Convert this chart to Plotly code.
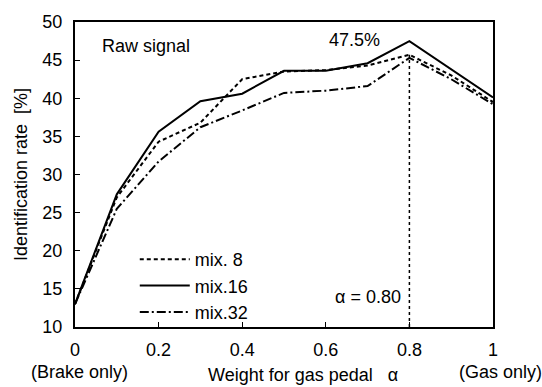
import plotly.graph_objects as go

alpha = [0, 0.1, 0.2, 0.3, 0.4, 0.5, 0.6, 0.7, 0.8, 0.9, 1.0]
mix8 = [13.0, 27.0, 34.3, 36.8, 42.5, 43.5, 43.7, 44.3, 45.7, 43.0, 39.5]
mix16 = [13.0, 27.4, 35.6, 39.6, 40.6, 43.6, 43.6, 44.6, 47.5, 43.8, 40.1]
mix32 = [13.0, 25.5, 31.7, 36.2, 38.4, 40.7, 41.0, 41.6, 45.3, 42.5, 39.2]
series = [("mix. 8", mix8, "4px,3px"), ("mix.16", mix16, "solid"), ("mix.32", mix32, "9px,3px,2px,3px")]
peak_alpha = 0.8
xticks = [0, 0.2, 0.4, 0.6, 0.8, 1]
xticklabels = ["0", "0.2", "0.4", "0.6", "0.8", "1"]

fig = go.Figure()
for name, vals, dash in series:
    fig.add_trace(go.Scatter(x=alpha, y=vals, mode="lines", name=name,
                             line=dict(color="black", width=2, dash=dash)))

fig.add_shape(type="line", x0=peak_alpha, x1=peak_alpha, y0=10, y1=max(mix8[8], mix32[8]),
              xref="x", yref="y", line=dict(color="black", width=1.5, dash="3px,3px"))

font = dict(family="Liberation Sans, Arial, sans-serif", size=18, color="black")
fig.update_layout(
    width=542, height=387,
    margin=dict(l=75, r=49, t=19, b=60),
    paper_bgcolor="white", plot_bgcolor="white",
    font=font,
    showlegend=True,
    legend=dict(x=0.143, y=0.282, xanchor="left", yanchor="top", bgcolor="rgba(0,0,0,0)",
                font=font, tracegroupgap=0, itemwidth=50),
    xaxis=dict(range=[0, 1], tickvals=xticks, ticktext=xticklabels,
               ticks="inside", ticklen=5, tickcolor="black", showline=True, linecolor="black",
               linewidth=2, mirror=True, showgrid=False, zeroline=False, tickfont=font,
               ticklabelstandoff=5),
    yaxis=dict(range=[10, 50], dtick=5, ticks="inside", ticklen=5, tickcolor="black",
               showline=True, linecolor="black", linewidth=2, mirror=True, showgrid=False,
               zeroline=False, tickfont=font, ticklabelstandoff=7,
               title=dict(text="Identification rate  [%]", font=font, standoff=10)),
    annotations=[
        dict(text="Raw signal", x=0.17, y=46.85, xref="paper", yref="y", showarrow=False, xanchor="center", font=font),
        dict(text="47.5%", x=0.669, y=47.7, xref="paper", yref="y", showarrow=False, xanchor="center", font=font),
        dict(text="\u03b1 = 0.80", x=0.785, y=14.0, xref="paper", yref="y", showarrow=False, xanchor="right", font=font),
        dict(text="(Brake only)", x=0.01, y=-0.149, xref="paper", yref="paper", showarrow=False, xanchor="center", yanchor="middle", font=font),
        dict(text="Weight for gas pedal   \u03b1", x=0.546, y=-0.158, xref="paper", yref="paper", showarrow=False, xanchor="center", yanchor="middle", font=font),
        dict(text="(Gas only)", x=1.017, y=-0.149, xref="paper", yref="paper", showarrow=False, xanchor="center", yanchor="middle", font=font),
    ],
)
fig.write_html("out.html")
